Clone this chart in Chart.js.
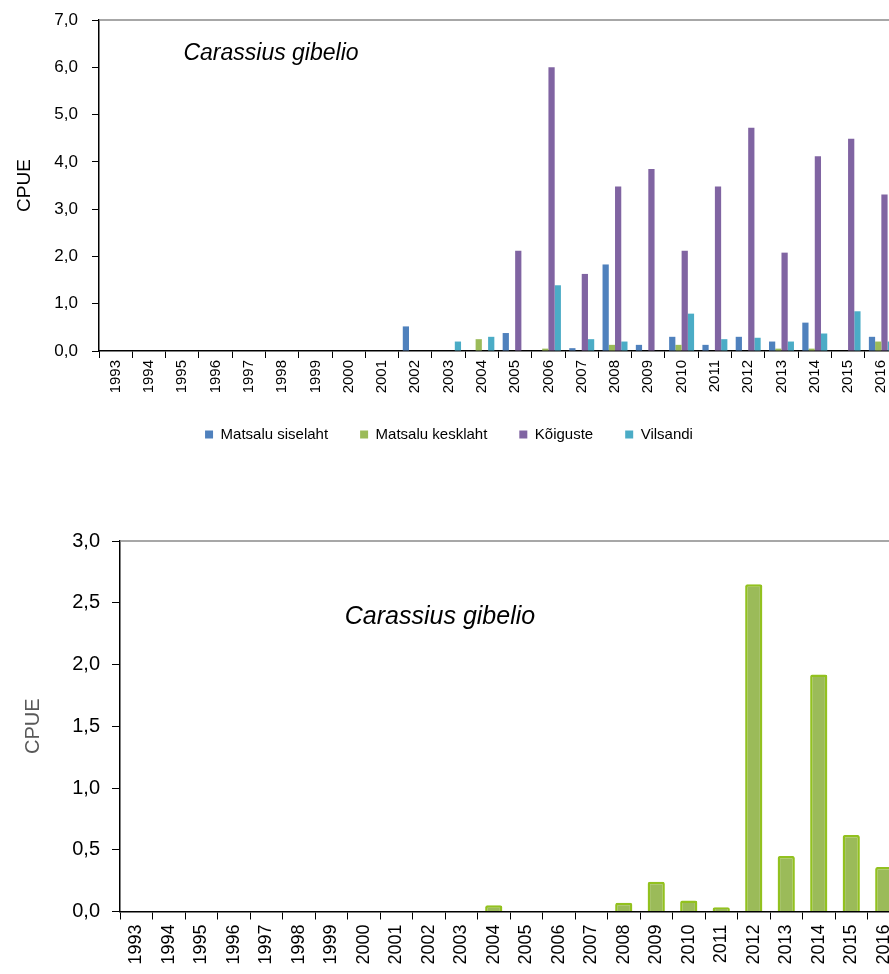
<!DOCTYPE html>
<html>
<head>
<meta charset="utf-8">
<script src="https://cdn.jsdelivr.net/npm/chart.js@4.4.1/dist/chart.umd.min.js"></script>
<style>
  html, body { margin: 0; padding: 0; background: #fff; }
  body { width: 889px; height: 974px; overflow: hidden; position: relative; }
  canvas { position: absolute; left: 0; }
  #topChart { top: 0; }
  #bottomChart { top: 500px; }
</style>
</head>
<body>
<canvas id="topChart" width="910" height="452"></canvas>
<canvas id="bottomChart" width="912" height="500"></canvas>
<script>
const years = ['1993', '1994', '1995', '1996', '1997', '1998', '1999', '2000', '2001', '2002', '2003', '2004',
               '2005', '2006', '2007', '2008', '2009', '2010', '2011', '2012', '2013', '2014', '2015', '2016'];

// ülemine joonis
const matsaluSiselaht = [0, 0, 0, 0, 0, 0, 0, 0, 0, 0.52, 0, 0, 0.38, 0, 0.06, 1.83, 0.13, 0.30, 0.13, 0.30, 0.20, 0.60, 0, 0.30];
const matsaluKesklaht = [0, 0, 0, 0, 0, 0, 0, 0, 0, 0, 0, 0.25, 0, 0.05, 0, 0.13, 0, 0.13, 0, 0, 0.05, 0.05, 0, 0.20];
const koiguste = [0, 0, 0, 0, 0, 0, 0, 0, 0, 0, 0, 0, 2.12, 6.0, 1.63, 3.48, 3.85, 2.12, 3.48, 4.72, 2.08, 4.12, 4.49, 3.31];
const vilsandi = [0, 0, 0, 0, 0, 0, 0, 0, 0, 0, 0.20, 0.30, 0, 1.39, 0.25, 0.20, 0, 0.79, 0.25, 0.28, 0.20, 0.37, 0.84, 0.20];

// alumine joonis
const cpueBottom = [0, 0, 0, 0, 0, 0, 0, 0, 0, 0, 0, 0.05, 0, 0, 0, 0.07, 0.24, 0.09, 0.035, 2.65, 0.45, 1.92, 0.62, 0.36];

const speciesName = 'Carassius gibelio';
const fontFamily = 'Arial, "Liberation Sans", sans-serif';
const comma = v => v.toFixed(1).replace('.', ',');

// ülemine raam ja liigi nimi
function frameAndTitle(dx, dy, size) {
  return {
    id: 'frameAndTitle',
    afterDraw(chart) {
      const { ctx, chartArea } = chart;
      ctx.save();
      ctx.strokeStyle = '#8a8a8a';
      ctx.lineWidth = 1.5;
      ctx.beginPath();
      ctx.moveTo(chartArea.left, chartArea.top);
      ctx.lineTo(chartArea.right, chartArea.top);
      ctx.stroke();
      ctx.fillStyle = '#000';
      ctx.font = 'italic ' + size + 'px ' + fontFamily;
      ctx.textAlign = 'center';
      ctx.textBaseline = 'middle';
      ctx.fillText(speciesName, chartArea.left + dx, chartArea.top + dy);
      ctx.restore();
    }
  };
}

new Chart(document.getElementById('topChart'), {
  type: 'bar',
  data: {
    labels: years,
    datasets: [
      { label: 'Matsalu siselaht', data: matsaluSiselaht, backgroundColor: '#4f81bd' },
      { label: 'Matsalu kesklaht', data: matsaluKesklaht, backgroundColor: '#9bbb59' },
      { label: 'Kõiguste', data: koiguste, backgroundColor: '#8064a2' },
      { label: 'Vilsandi', data: vilsandi, backgroundColor: '#4bacc6' }
    ]
  },
  options: {
    responsive: false,
    animation: false,
    categoryPercentage: 0.75,
    barPercentage: 1.0,
    layout: { padding: { left: 0, top: 20, right: 12, bottom: 0 } },
    scales: {
      x: {
        grid: { offset: true, drawOnChartArea: false, tickLength: 7, color: '#000' },
        border: { color: '#000', width: 1.5 },
        ticks: { autoSkip: false, minRotation: 90, maxRotation: 90, padding: 2, color: '#000',
                 font: { family: fontFamily, size: 15 } },
        afterFit: s => { s.height = 44; }
      },
      y: {
        min: 0, max: 7,
        grid: { drawOnChartArea: false, tickLength: 7, color: '#000' },
        border: { color: '#000', width: 1.5 },
        ticks: { stepSize: 1, padding: 14, color: '#000', callback: comma,
                 font: { family: fontFamily, size: 17 } },
        title: { display: true, text: 'CPUE', color: '#000', padding: { top: 13 },
                 font: { family: fontFamily, size: 19 } },
        afterFit: s => { s.width = 99; s.paddingTop = 0; s.paddingBottom = 0; }
      }
    },
    plugins: {
      legend: {
        position: 'bottom',
        labels: { boxWidth: 8, boxHeight: 8, padding: 32, color: '#000',
                  font: { family: fontFamily, size: 15 } }
      },
      tooltip: { enabled: false }
    }
  },
  plugins: [frameAndTitle(172, 34, 23)]
});

new Chart(document.getElementById('bottomChart'), {
  type: 'bar',
  data: {
    labels: years,
    datasets: [{
      label: 'CPUE',
      data: cpueBottom,
      backgroundColor: '#9bbb59',
      borderColor: '#92c11f',
      borderWidth: 2.5,
      borderRadius: 2,
      borderSkipped: 'start'
    }]
  },
  options: {
    responsive: false,
    animation: false,
    categoryPercentage: 1.0,
    barPercentage: 0.53,
    layout: { padding: { left: 0, top: 41, right: 12, bottom: 0 } },
    scales: {
      x: {
        grid: { offset: true, drawOnChartArea: false, tickLength: 8, color: '#000' },
        border: { color: '#000', width: 1.5 },
        ticks: { autoSkip: false, minRotation: 90, maxRotation: 90, padding: 5, color: '#000',
                 font: { family: fontFamily, size: 18 } },
        afterFit: s => { s.height = 88.5; }
      },
      y: {
        min: 0, max: 3,
        grid: { drawOnChartArea: false, tickLength: 8, color: '#000' },
        border: { color: '#000', width: 1.5 },
        ticks: { stepSize: 0.5, padding: 12, color: '#000', callback: comma,
                 font: { family: fontFamily, size: 20 } },
        title: { display: true, text: 'CPUE', color: '#595959', padding: { top: 21 },
                 font: { family: fontFamily, size: 20 } },
        afterFit: s => { s.width = 120; s.paddingTop = 0; s.paddingBottom = 0; }
      }
    },
    plugins: {
      legend: { display: false },
      tooltip: { enabled: false }
    }
  },
  plugins: [frameAndTitle(320, 76, 25)]
});
</script>
</body>
</html>
